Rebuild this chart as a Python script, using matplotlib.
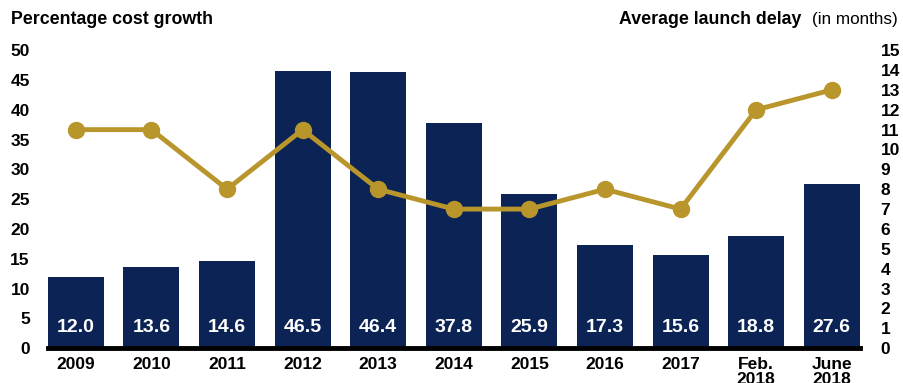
import numpy as np
import matplotlib.pyplot as plt

plt.rcParams['font.family'] = ['Liberation Sans', 'DejaVu Sans']

# 成本增长与平均发射延期
years = ['2009', '2010', '2011', '2012', '2013', '2014', '2015', '2016', '2017',
         'Feb.\n2018', 'June\n2018']
cost_growth = [12.0, 13.6, 14.6, 46.5, 46.4, 37.8, 25.9, 17.3, 15.6, 18.8, 27.6]
launch_delay = [11, 11, 8, 11, 8, 7, 7, 8, 7, 12, 13]

navy = '#0b2455'
gold = '#b8962c'

fig = plt.figure(figsize=(9.04, 3.83), dpi=100)
ax = fig.add_axes([0.053, 0.091, 0.898, 0.778])
x = np.arange(len(years))
bw = 0.74

ax.bar(x, cost_growth, width=bw, color=navy, zorder=2)
for xi, v in zip(x, cost_growth):
    ax.text(xi, 3.4, f'{v:.1f}', ha='center', va='center', color='white',
            fontsize=14, fontweight='bold', zorder=4)

ax.set_xlim(-bw / 2, len(years) - 1 + bw / 2)
ax.set_ylim(0, 50)
ax.set_yticks(range(0, 51, 5))
ax.set_xticks(x)
ax.set_xticklabels(years, fontsize=12.5, fontweight='bold', linespacing=0.95)
ax.tick_params(axis='both', length=0)
ax.tick_params(axis='x', pad=6.5)
ax.tick_params(axis='y', pad=13, labelsize=12.5)
for lab in ax.get_yticklabels():
    lab.set_fontweight('bold')
for s in ['top', 'right', 'left']:
    ax.spines[s].set_visible(False)
ax.spines['bottom'].set_linewidth(3.5)
ax.spines['bottom'].set_color('black')
ax.spines['bottom'].set_zorder(5)

ax2 = ax.twinx()
ax2.plot(x, launch_delay, color=gold, linewidth=3.5, marker='o', markersize=11.5,
         zorder=3)
ax2.set_ylim(0, 15)
ax2.set_yticks(range(0, 16))
ax2.tick_params(axis='y', length=0, labelsize=12.5, pad=15)
for lab in ax2.get_yticklabels():
    lab.set_fontweight('bold')
for s in ['top', 'right', 'left', 'bottom']:
    ax2.spines[s].set_visible(False)

fig.text(0.012, 0.948, 'Percentage cost growth', fontsize=12.8, fontweight='bold',
         va='center')
fig.text(0.887, 0.948, 'Average launch delay', fontsize=12.8,
         fontweight='bold', va='center', ha='right')
fig.text(0.993, 0.948, '(in months)', fontsize=12.3, va='center', ha='right')

fig.savefig('out.png', dpi=100)
